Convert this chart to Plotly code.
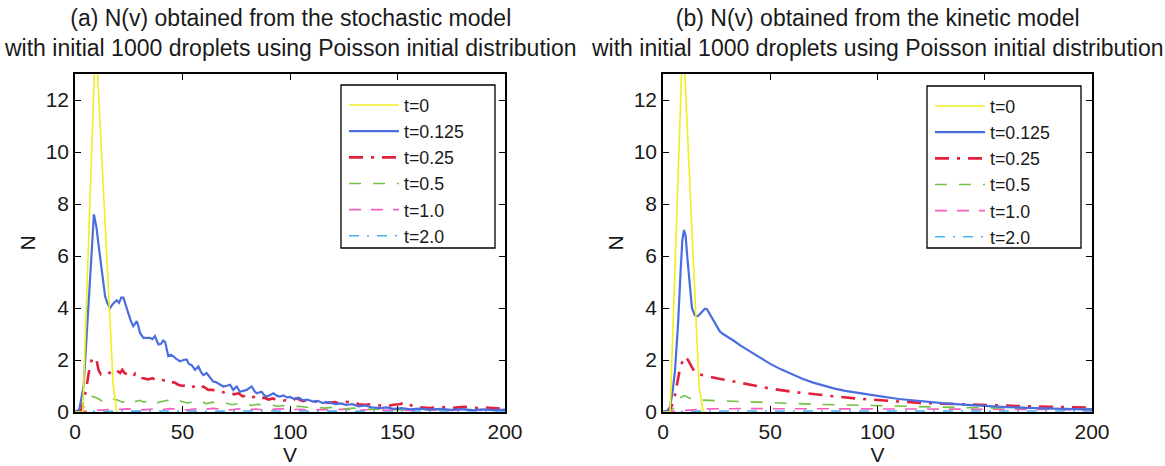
import plotly.graph_objects as go

# ---------------- data: (a) stochastic model ----------------
s_t0_v = [0, 3.6, 9.6, 17.8, 19.4, 20]
s_t0_n = [0, 0, 14.5, 1.0, 0, 0]

s_t0125_v = [0, 2, 4, 6, 7.5, 8.8, 10, 11, 12.5, 14, 15, 16.3, 17.5, 18.5, 19.4, 20.5, 21.5, 22.5, 23.5, 24.8,
             26, 27.1, 28, 28.7, 29.5, 30.2, 31.8, 33, 34.9, 36, 37.2, 38, 38.8, 40, 41, 41.9, 42.6, 43.4, 44.5, 45.7,
             47, 48.8, 50.5, 51.9, 53, 54.3, 55.8, 57.4, 58.5, 59.7, 61.2, 62.5, 64.3, 65.5, 66.7, 68, 69, 71, 72.1, 73.6,
             75.2, 76.7, 78.5, 79.9, 81, 82.2, 83.5, 84.5, 86.8, 88, 89.2, 91, 92.3, 94, 95.3, 97, 98.5, 100, 102, 104,
             106, 108, 110.7, 113, 115, 118, 121, 124, 126, 129, 132, 135, 138, 141.9, 145, 148, 152, 156, 160, 165,
             170, 175, 180, 185, 190, 195, 200]
s_t0125_n = [0, 0.1, 1.0, 3.5, 5.8, 7.6, 7.1, 6.4, 5.3, 4.45, 4.2, 4.0, 4.15, 4.25, 4.3, 4.2, 4.4, 4.4, 4.1, 3.8,
             3.5, 3.3, 3.4, 3.5, 3.3, 3.05, 2.85, 2.85, 2.85, 2.8, 2.92, 2.75, 2.6, 2.62, 2.75, 2.7, 2.4, 2.15, 2.2, 2.15,
             2.05, 1.95, 2.0, 2.02, 1.85, 1.8, 1.62, 1.75, 1.55, 1.42, 1.5, 1.35, 1.17, 1.15, 1.1, 1.05, 0.98, 1.02, 1.05, 0.85,
             0.98, 0.78, 0.82, 0.85, 0.92, 0.98, 0.8, 0.72, 0.78, 0.65, 0.59, 0.66, 0.72, 0.62, 0.59, 0.64, 0.56, 0.58, 0.5, 0.55,
             0.45, 0.48, 0.4, 0.43, 0.35, 0.38, 0.3, 0.33, 0.27, 0.3, 0.22, 0.25, 0.18, 0.15, 0.18, 0.12, 0.15, 0.1, 0.13, 0.09,
             0.12, 0.08, 0.11, 0.07, 0.1, 0.07, 0.09]

s_t025_v = [0, 3, 5, 7, 8, 9, 10, 11, 12, 13, 15, 17, 18, 19.4, 21, 22, 23, 25.6, 27, 28, 30, 32, 34, 36, 38, 40,
            42, 44, 46, 48, 50, 52, 54, 56, 58, 59.7, 62, 64, 66, 68, 70, 72, 74, 76, 78, 80, 82, 84, 86, 88, 90,
            92, 94, 96, 98, 100, 103, 106, 109, 112, 114.7, 118, 121, 124, 126, 129, 132, 135, 138, 141.9, 145, 148,
            151, 154, 157, 160, 165, 170, 175, 181, 186, 190, 194, 200]
s_t025_n = [0, 0.1, 0.8, 1.8, 2.05, 2.1, 2.0, 1.6, 1.45, 1.5, 1.45, 1.55, 1.65, 1.6, 1.5, 1.62, 1.5, 1.42, 1.35, 1.48,
            1.3, 1.3, 1.25, 1.3, 1.2, 1.25, 1.2, 1.1, 1.15, 1.05, 1.0, 1.05, 0.95, 1.0, 0.9, 0.98, 0.85, 0.85, 0.78, 0.8,
            0.72, 0.75, 0.68, 0.72, 0.6, 0.65, 0.55, 0.6, 0.5, 0.55, 0.48, 0.52, 0.45, 0.42, 0.45, 0.4, 0.53, 0.42, 0.48,
            0.4, 0.42, 0.35, 0.38, 0.3, 0.38, 0.4, 0.3, 0.28, 0.3, 0.25, 0.22, 0.28, 0.3, 0.38, 0.22, 0.18, 0.15, 0.2,
            0.15, 0.2, 0.15, 0.18, 0.15, 0.12]

s_t05_v = [0, 3, 5, 7, 8, 10, 12, 14, 16, 18, 20, 22, 24, 26, 28, 30, 32, 34, 36, 38, 40, 43, 46, 49, 52, 55, 58,
           61, 64, 67, 70, 73, 76, 79, 82, 85, 88, 91, 94, 97, 100, 104, 108, 112, 116, 120, 125, 130, 135, 140, 145,
           150, 155, 160, 165, 170, 175, 180, 185, 190, 195, 200]
s_t05_n = [0, 0.05, 0.3, 0.55, 0.6, 0.55, 0.45, 0.35, 0.4, 0.5, 0.45, 0.38, 0.42, 0.5, 0.4, 0.45, 0.38, 0.42, 0.48,
           0.35, 0.4, 0.45, 0.35, 0.42, 0.35, 0.38, 0.45, 0.32, 0.38, 0.3, 0.35, 0.28, 0.32, 0.35, 0.25, 0.3, 0.25,
           0.28, 0.22, 0.25, 0.2, 0.22, 0.18, 0.2, 0.15, 0.18, 0.12, 0.15, 0.12, 0.1, 0.12, 0.08, 0.1, 0.12, 0.08, 0.1,
           0.07, 0.09, 0.06, 0.08, 0.06, 0.07]

s_t1_v = [0, 4, 8, 12, 16, 20, 24, 28, 32, 36, 40, 44, 48, 52, 56, 60, 64, 68, 72, 76, 80, 84, 88, 92, 96, 100,
          105, 110, 115, 120, 125, 130, 135, 140, 145, 150, 155, 160, 165, 170, 175, 180, 185, 190, 195, 200]
s_t1_n = [0, 0.02, 0.06, 0.08, 0.1, 0.09, 0.12, 0.1, 0.08, 0.11, 0.09, 0.13, 0.1, 0.08, 0.12, 0.1, 0.14, 0.1, 0.08,
          0.12, 0.09, 0.11, 0.08, 0.1, 0.13, 0.09, 0.1, 0.07, 0.1, 0.08, 0.11, 0.07, 0.09, 0.1, 0.07, 0.09, 0.06, 0.09,
          0.07, 0.08, 0.06, 0.08, 0.07, 0.06, 0.08, 0.06]

s_t2_v = [0, 5, 10, 20, 30, 40, 50, 60, 70, 80, 90, 100, 110, 120, 130, 140, 150, 160, 170, 180, 190, 200]
s_t2_n = [0, 0.02, 0.03, 0.03, 0.04, 0.03, 0.04, 0.03, 0.04, 0.03, 0.04, 0.04, 0.03, 0.04, 0.03, 0.04, 0.04, 0.03,
          0.04, 0.03, 0.04, 0.04]

# ---------------- data: (b) kinetic model ----------------
k_t0_v = [0, 3.3, 9.3, 16.8, 18.7, 20]
k_t0_n = [0, 0, 14.6, 1.0, 0, 0]

k_t0125_v = [0, 2, 3.3, 4.5, 5.6, 6.5, 7.1, 8.2, 9, 9.8, 10.5, 11.5, 12.6, 13.5, 14.6, 15.5, 16.5, 18, 19.5, 20.5,
             22, 23.5, 25, 26.5, 28, 30, 33, 36, 40, 45, 50, 55, 60, 65, 70, 75, 80, 85, 90, 95, 100, 110, 120, 130,
             140, 150, 160, 170, 180, 190, 200]
k_t0125_n = [0, 0.05, 0.2, 0.8, 1.6, 2.6, 3.5, 5.4, 6.6, 7.0, 6.8, 5.8, 4.6, 4.0, 3.75, 3.68, 3.7, 3.85, 3.97, 3.95,
             3.75, 3.55, 3.3, 3.1, 3.0, 2.9, 2.74, 2.56, 2.35, 2.08, 1.85, 1.64, 1.45, 1.28, 1.13, 1.0, 0.9, 0.81, 0.74,
             0.68, 0.62, 0.5, 0.41, 0.34, 0.28, 0.23, 0.19, 0.16, 0.13, 0.11, 0.1]

k_t025_v = [0, 3, 5, 6.5, 8, 9.5, 10.7, 12, 13.5, 15, 17, 19, 22, 25, 30, 35, 40, 45, 50, 60, 70, 80, 90, 100,
            110, 120, 130, 140, 150, 160, 170, 180, 190, 200]
k_t025_n = [0, 0.05, 0.4, 1.0, 1.7, 2.05, 2.13, 1.95, 1.7, 1.5, 1.45, 1.42, 1.35, 1.3, 1.22, 1.12, 1.05, 0.97, 0.9,
            0.78, 0.68, 0.6, 0.52, 0.46, 0.4, 0.35, 0.32, 0.29, 0.26, 0.24, 0.22, 0.2, 0.19, 0.17]

k_t05_v = [0, 3, 5, 7, 9, 10, 12, 14, 17, 20, 30, 40, 50, 60, 70, 80, 90, 100, 120, 140, 160, 180, 200]
k_t05_n = [0, 0.02, 0.15, 0.45, 0.6, 0.63, 0.55, 0.49, 0.46, 0.45, 0.42, 0.39, 0.36, 0.33, 0.3, 0.28, 0.26, 0.24,
           0.2, 0.17, 0.15, 0.13, 0.12]

k_t1_v = [0, 5, 10, 15, 20, 40, 60, 80, 100, 120, 140, 160, 180, 200]
k_t1_n = [0, 0.03, 0.08, 0.11, 0.12, 0.13, 0.13, 0.13, 0.12, 0.12, 0.11, 0.1, 0.1, 0.09]

k_t2_v = [0, 5, 10, 20, 50, 100, 150, 200]
k_t2_n = [0, 0.01, 0.03, 0.04, 0.04, 0.04, 0.04, 0.04]

labels = ["t=0", "t=0.125", "t=0.25", "t=0.5", "t=1.0", "t=2.0"]
titles = ["(a) N(v) obtained from the stochastic model<br>with initial 1000 droplets using Poisson initial distribution",
          "(b) N(v) obtained from the kinetic model<br>with initial 1000 droplets using Poisson initial distribution"]
x_ticks = [0, 50, 100, 150, 200]
y_ticks = [0, 2, 4, 6, 8, 10, 12]

styles = [
    dict(color="#f2ee1c", width=1.6, dash="solid"),
    dict(color="#4a6ee0", width=2.2, dash="solid"),
    dict(color="#e2203c", width=2.6, dash="14px,8px,3px,8px"),
    dict(color="#72c045", width=1.6, dash="12px,12px"),
    dict(color="#f55fc0", width=1.6, dash="12px,10px"),
    dict(color="#45b4f2", width=1.6, dash="10px,8px,2px,8px"),
]

stoch = [(s_t0_v, s_t0_n), (s_t0125_v, s_t0125_n), (s_t025_v, s_t025_n),
         (s_t05_v, s_t05_n), (s_t1_v, s_t1_n), (s_t2_v, s_t2_n)]
kin = [(k_t0_v, k_t0_n), (k_t0125_v, k_t0125_n), (k_t025_v, k_t025_n),
       (k_t05_v, k_t05_n), (k_t1_v, k_t1_n), (k_t2_v, k_t2_n)]

FONT = "Liberation Sans, Arial, sans-serif"
fig = go.Figure()

order = [5, 4, 3, 2, 1, 0]
for i in order:
    v, n = stoch[i]
    fig.add_trace(go.Scatter(x=v, y=n, mode="lines", name=labels[i], line=styles[i],
                             xaxis="x", yaxis="y", legend="legend", legendrank=i + 1))
for i in order:
    v, n = kin[i]
    fig.add_trace(go.Scatter(x=v, y=n, mode="lines", name=labels[i], line=styles[i],
                             xaxis="x2", yaxis="y2", legend="legend2", legendrank=i + 1))

W, H = 1165, 466
xd1 = [75 / W, 505 / W]
xd2 = [663 / W, 1092 / W]
yd = [(H - 412) / H, (H - 74) / H]

axis_common = dict(showline=True, linecolor="black", linewidth=1.5, mirror="ticks",
                   ticks="inside", ticklen=6, tickwidth=1.2, tickcolor="black",
                   showgrid=False, zeroline=False, automargin=False,
                   tickfont=dict(family=FONT, size=21, color="#1a1a1a"))

legend_common = dict(xanchor="left", yanchor="top", borderwidth=0,
                     bgcolor="rgba(0,0,0,0)", font=dict(family=FONT, size=17.8, color="#1a1a1a"),
                     traceorder="normal", tracegroupgap=0, itemwidth=50)

# legend frames (paper px)
boxes = [(341, 85, 495, 248), (927, 86, 1081, 248)]

fig.update_layout(
    template="none",
    width=W, height=H,
    margin=dict(l=0, r=0, t=0, b=0, autoexpand=False),
    paper_bgcolor="white", plot_bgcolor="white",
    font=dict(family=FONT, size=21, color="#1a1a1a"),
    xaxis=dict(domain=xd1, range=[0, 200], tickvals=x_ticks, anchor="y",
               title=dict(text="V", standoff=4, font=dict(size=21)), **axis_common),
    yaxis=dict(domain=yd, range=[0, 13], tickvals=y_ticks, anchor="x",
               title=dict(text="N", standoff=4, font=dict(size=21)), **axis_common),
    xaxis2=dict(domain=xd2, range=[0, 200], tickvals=x_ticks, anchor="y2",
                title=dict(text="V", standoff=4, font=dict(size=21)), **axis_common),
    yaxis2=dict(domain=yd, range=[0, 13], tickvals=y_ticks, anchor="x2",
                title=dict(text="N", standoff=4, font=dict(size=21)), **axis_common),
    legend=dict(x=344 / W, y=(H - 87) / H, **legend_common),
    legend2=dict(x=930 / W, y=(H - 88) / H, **legend_common),
    showlegend=True,
)

for (x0, y0, x1, y1) in boxes:
    fig.add_shape(type="rect", xref="paper", yref="paper",
                  x0=x0 / W, x1=x1 / W, y0=(H - y1) / H, y1=(H - y0) / H,
                  line=dict(color="black", width=1.3), fillcolor="white", layer="above")

for k, xc in enumerate([(xd1[0] + xd1[1]) / 2, (xd2[0] + xd2[1]) / 2]):
    fig.add_annotation(text=titles[k], x=xc, y=1 - 3 / H, xref="paper", yref="paper",
                       xanchor="center", yanchor="top", showarrow=False,
                       font=dict(family=FONT, size=23, color="#1a1a1a"))

fig.write_html("out.html")
